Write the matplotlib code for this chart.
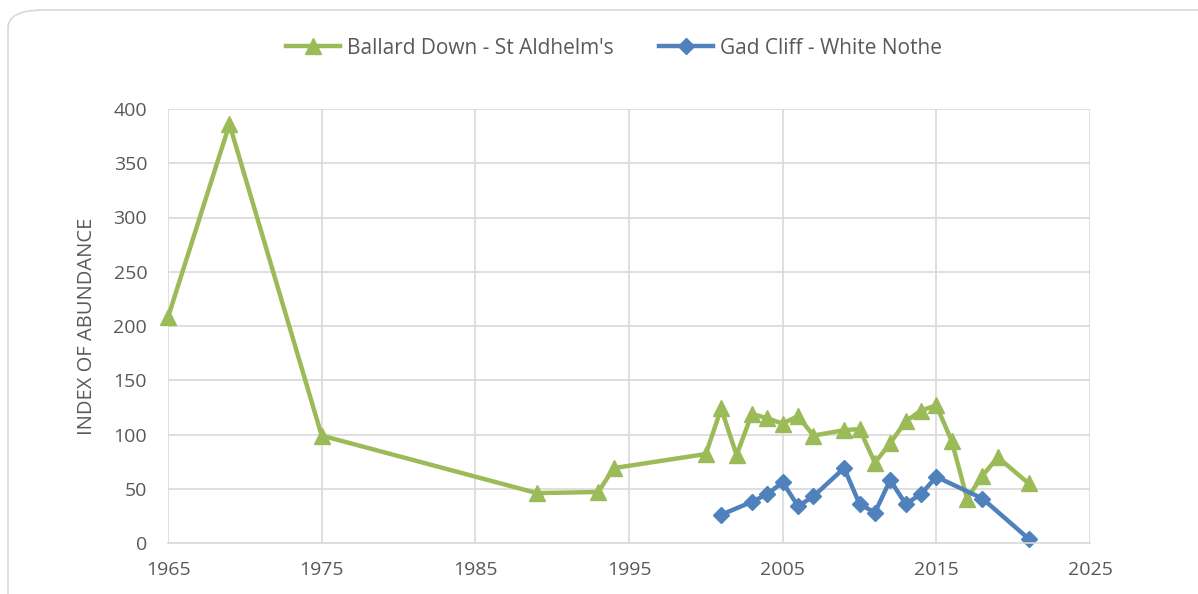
import matplotlib
matplotlib.use("Agg")
import matplotlib.pyplot as plt
from matplotlib.patches import FancyBboxPatch

# Ballard Down - St Aldhelm's
ballard_years = [1965, 1969, 1975, 1989, 1993, 1994, 2000, 2001, 2002, 2003, 2004,
                 2005, 2006, 2007, 2009, 2010, 2011, 2012, 2013, 2014, 2015, 2016,
                 2017, 2018, 2019, 2021]
ballard_vals = [208, 386, 99, 46, 47, 69, 82, 124, 81, 119, 115,
                110, 117, 99, 104, 105, 74, 92, 112, 122, 127, 94,
                41, 62, 79, 55]

# Gad Cliff - White Nothe
gad_years = [2001, 2003, 2004, 2005, 2006, 2007, 2009, 2010, 2011, 2012, 2013,
             2014, 2015, 2018, 2021]
gad_vals = [26, 38, 45, 56, 34, 43, 69, 36, 28, 58, 36,
            45, 61, 41, 4]

green = "#9BBB59"
blue = "#4F81BD"
grey_txt = "#595959"

plt.rcParams['font.family'] = ['Open Sans', 'DejaVu Sans']

fig = plt.figure(figsize=(11.98, 5.94), dpi=100)
border = FancyBboxPatch((8/1198, -0.1), 1.2, 1.1 - 10/594,
                        boxstyle="round,pad=0,rounding_size=0.03",
                        transform=fig.transFigure, fill=False,
                        edgecolor="#d9d9d9", linewidth=1.2)
fig.patches.append(border)

ax = fig.add_axes([168/1198, 51/594, (1090-168)/1198, (543-109)/594])

ax.plot(ballard_years, ballard_vals, color=green, lw=3.2, marker="^",
        markersize=11, label="Ballard Down - St Aldhelm's", clip_on=False)
ax.plot(gad_years, gad_vals, color=blue, lw=3.2, marker="D",
        markersize=8, label="Gad Cliff - White Nothe", clip_on=False)

ax.set_xlim(1965, 2025)
ax.set_ylim(0, 400)
ax.set_xticks(range(1965, 2026, 10))
ax.set_yticks(range(0, 401, 50))
ax.grid(True, color="#d9d9d9", lw=1.2)
ax.set_axisbelow(True)
for s in ["top", "right", "left"]:
    ax.spines[s].set_visible(False)
ax.spines["bottom"].set_color("#d9d9d9")
ax.spines["bottom"].set_linewidth(1.2)
ax.tick_params(length=0, colors=grey_txt, labelsize=14)
ax.tick_params(axis="y", pad=15)
ax.tick_params(axis="x", pad=13)
ax.set_ylabel("INDEX OF ABUNDANCE", color=grey_txt, fontsize=14.5, labelpad=12)

ax.legend(loc="center", bbox_to_anchor=(0.5 - 15/922, 1 + (109 - 48) / 434), ncol=2,
          frameon=False, fontsize=15, labelcolor=grey_txt, columnspacing=2.2,
          handlelength=2.6, handletextpad=0.3)

fig.savefig("out.png", dpi=100)
